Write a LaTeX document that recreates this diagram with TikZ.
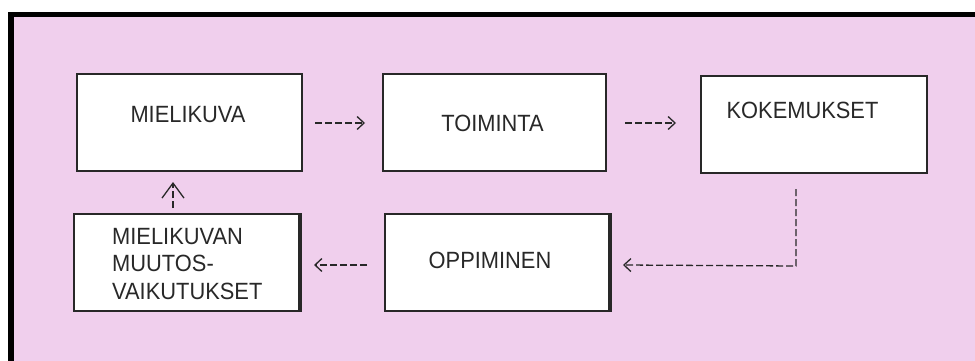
\documentclass[tikz,border=0pt]{standalone}
\usepackage{fontspec}
\setmainfont{Liberation Sans}[FakeStretch=0.93]
\usetikzlibrary{arrows.meta,calc}
\definecolor{bgpink}{RGB}{240,207,237}
\definecolor{ink}{RGB}{40,40,40}
\begin{document}
\begin{tikzpicture}[x=1pt,y=-1pt,
  box/.style={rectangle,draw=ink,line width=2pt,fill=white,minimum width=225pt,minimum height=97pt,inner sep=0pt},
  lbl/.style={font=\fontsize{23.5}{27}\selectfont,text=ink,inner sep=0pt},
  dline/.style={draw=ink,line width=1.3pt,dash pattern=on 7pt off 3pt,-{Straight Barb[length=7pt,width=13pt,line width=1.3pt]}},
  upline/.style={dline,-{Straight Barb[length=15pt,width=22pt,line width=1.3pt]}}]
\useasboundingbox (0,0) rectangle (975,361);
\fill[white] (0,0) rectangle (975,361);
\fill[bgpink] (8,12) rectangle (975,361);
\fill[black] (8,12) rectangle (975,17.5);
\fill[black] (8,12) rectangle (13.5,361);
% boxes
\node[box] (mk) at (189.5,122.5) {};
\node[box,minimum width=223pt] (toi) at (494.5,122.5) {};
\node[box,minimum width=226pt] (kok) at (814,124.5) {};
\node[box] (mv) at (186.5,262.5) {};
\node[box,minimum width=224pt] (opp) at (497,262.5) {};
\draw[ink,line width=3.5pt] (mv.north east) -- (mv.south east);
\draw[ink,line width=3.5pt] (opp.north east) -- (opp.south east);
% labels
\node[lbl,anchor=base] (mkt) at (188,122) {MIELIKUVA};
\node[lbl,anchor=base] (toit) at (492.5,131.5) {TOIMINTA};
\node[lbl,anchor=base] (kokt) at (802.5,118) {KOKEMUKSET};
\node[lbl,anchor=base] (oppt) at (490,268) {OPPIMINEN};
\node[lbl,anchor=base west] (mvt1) at (112,244) {MIELIKUVAN};
\node[lbl,anchor=base west] (mvt2) at (112,271.5) {MUUTOS-};
\node[lbl,anchor=base west] (mvt3) at (112,299) {VAIKUTUKSET};
% connectors
\draw[dline] ($(mk.east)+(12,0.5)$) -- ($(toi.west)+(-17,0.5)$);
\draw[dline] ($(toi.east)+(18,0.5)$) -- ($(kok.west |- toi.east)+(-24,0.5)$);
\draw[dline] ($(kok.south)+(-18,15)$) -- ($(kok.south)+(-18,92)$) -- ($(opp.east)+(13,2.5)$);
\draw[dline] ($(opp.west)+(-17,2.5)$) -- ($(mv.east)+(14,2.5)$);
\draw[upline] ($(mv.north)+(-13.5,-5)$) -- ($(mk.south)+(-16.5,10)$);
\end{tikzpicture}
\end{document}
